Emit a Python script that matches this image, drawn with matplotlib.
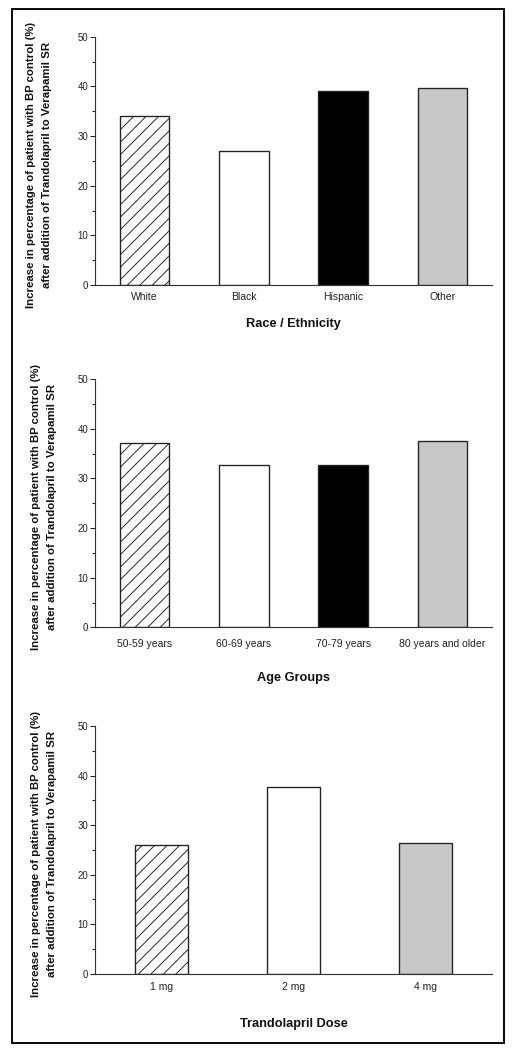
import matplotlib
matplotlib.use("Agg")
import matplotlib.pyplot as plt
from matplotlib.patches import Rectangle

plt.rcParams['font.family'] = ['Liberation Sans', 'DejaVu Sans']
plt.rcParams['hatch.linewidth'] = 0.9

# ---- data ----
race_categories = ['White', 'Black', 'Hispanic', 'Other']
race_values = [34.0, 27.0, 39.0, 39.6]

age_categories = ['50-59 years', '60-69 years', '70-79 years', '80 years and older']
age_values = [37.1, 32.8, 32.7, 37.6]

dose_categories = ['1 mg', '2 mg', '4 mg']
dose_values = [25.9, 37.7, 26.3]

ylabel_text = ('Increase in percentage of patient with BP control (%)\n'
               'after addition of Trandolapril to Verapamil SR')
xlabels = ['Race / Ethnicity', 'Age Groups', 'Trandolapril Dose']

# ---- styles ----
EDGE = '#222222'
GRAY = '#c8c8c8'
styles4 = [dict(fc='white', hatch='//'), dict(fc='white', hatch=None),
           dict(fc='black', hatch=None), dict(fc=GRAY, hatch=None)]
styles3 = [dict(fc='white', hatch='//'), dict(fc='white', hatch=None),
           dict(fc=GRAY, hatch=None)]

DPI = 75
W, H = 515, 1050
fig = plt.figure(figsize=(W / DPI, H / DPI), dpi=DPI)

def px_axes(top, bottom, left=95, right=492):
    return [left / W, 1 - bottom / H, (right - left) / W, (bottom - top) / H]

panels = [
    dict(cats=race_categories, vals=race_values, styles=styles4, width=0.5,
         rect=px_axes(36.7, 285), pad=7, ylab_x=39, xlab_y=324, xlabel=xlabels[0]),
    dict(cats=age_categories, vals=age_values, styles=styles4, width=0.5,
         rect=px_axes(379.3, 627.3), pad=11, ylab_x=43.8, xlab_y=677.5, xlabel=xlabels[1]),
    dict(cats=dose_categories, vals=dose_values, styles=styles3, width=0.4,
         rect=px_axes(726, 973.7), pad=7.5, ylab_x=43.8, xlab_y=1023.5, xlabel=xlabels[2]),
]

for p in panels:
    ax = fig.add_axes(p['rect'])
    n = len(p['cats'])
    x = list(range(n))
    bars = ax.bar(x, p['vals'], width=p['width'], edgecolor=EDGE, linewidth=1.3)
    for b, st in zip(bars, p['styles']):
        b.set_facecolor(st['fc'])
        if st['hatch']:
            b.set_hatch(st['hatch'])
    ax.set_xlim(-0.5, n - 0.5)
    ax.set_ylim(0, 50)
    ax.set_yticks([0, 10, 20, 30, 40, 50])
    ax.set_yticks([5, 15, 25, 35, 45], minor=True)
    ax.set_xticks(x)
    ax.set_xticklabels(p['cats'], fontsize=10, color='#222222')
    ax.tick_params(axis='x', length=0, pad=p['pad'])
    ax.tick_params(axis='y', which='major', length=4.5, width=1.0, pad=2,
                   labelsize=9.2, colors='#222222', direction='out')
    ax.tick_params(axis='y', which='minor', length=3, width=1.0, direction='out',
                   colors='#222222')
    for s in ['top', 'right']:
        ax.spines[s].set_visible(False)
    for s in ['left', 'bottom']:
        ax.spines[s].set_linewidth(1.1)
        ax.spines[s].set_color('#333333')
    top_px = (1 - p['rect'][1] - p['rect'][3]) * H
    bot_px = (1 - p['rect'][1]) * H
    hpx = bot_px - top_px
    # y label
    ax.text((p['ylab_x'] - 95) / 397, 0.5 - 4 / hpx, ylabel_text,
            transform=ax.transAxes, rotation=90, ha='center', va='center',
            fontsize=10.9, fontweight='bold', linespacing=1.75,
            multialignment='center', color='#111111')
    # x label
    ax.text(0.5, (bot_px - p['xlab_y']) / hpx, p['xlabel'], transform=ax.transAxes,
            ha='center', va='center', fontsize=12.3, fontweight='bold', color='#111111')

# outer frame
fig.patches.append(Rectangle((12 / W, 1 - 1043 / H), (504 - 12) / W, (1043 - 9) / H,
                             transform=fig.transFigure, fill=False,
                             edgecolor='black', linewidth=1.8))

fig.savefig('out.png', dpi=DPI)
